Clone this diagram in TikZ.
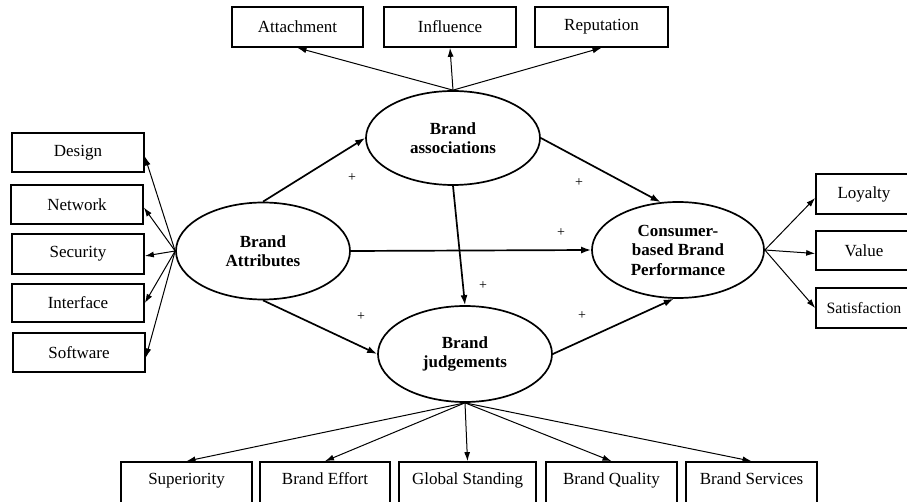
\documentclass[tikz,border=0pt]{standalone}
\usepackage{fontspec}
\setmainfont{Liberation Serif}
\usetikzlibrary{shapes.geometric,arrows.meta}
\begin{document}
\begin{tikzpicture}[x=1pt,y=-1pt,
  box/.style={draw, line width=1.7pt, inner sep=0pt, minimum width=131pt, minimum height=40pt, font=\fontsize{17}{19}\selectfont},
  botbox/.style={box, minimum height=46pt, text height=8pt, text depth=9pt},
  latent/.style={draw, ellipse, line width=1.7pt, inner sep=0pt, minimum width=174pt, minimum height=96pt, align=center, font=\fontsize{17}{19.5}\selectfont\bfseries},
  thinarr/.style={-{Latex[length=9pt,width=6pt]}, line width=1pt},
  thickarr/.style={-{Latex[length=10pt,width=7pt]}, line width=1.7pt},
  plus/.style={font=\fontsize{14}{14}\selectfont, inner sep=0pt}]
\clip (0,0) rectangle (907,502);
\fill[white] (0,0) rectangle (907,502);
% top boxes
\node[box] (att) at (297.5,27) {Attachment};
\node[box, minimum width=132pt] (inf) at (450,27) {Influence};
\node[box, minimum width=133pt] (rep) at (601.5,27) {Reputation};
% left boxes
\node[box, minimum width=132pt, minimum height=39pt] (des) at (78,152.5) {Design};
\node[box, minimum width=132pt, minimum height=39pt] (net) at (77,204.5) {Network};
\node[box, minimum width=132pt] (sec) at (78,254) {Security};
\node[box, minimum width=132pt, minimum height=38pt] (int) at (78,303) {Interface};
\node[box, minimum width=132pt, minimum height=39pt] (sof) at (79,352.5) {Software};
% right boxes
\node[box, minimum width=96pt] (loy) at (864,194) {Loyalty};
\node[box, minimum width=96pt, minimum height=39pt] (val) at (864,250.5) {Value};
\node[box, minimum width=96pt, font=\fontsize{15.8}{18}\selectfont] (sat) at (864,308) {Satisfaction};
% bottom boxes
\node[botbox] (sup) at (186.5,485) {Superiority};
\node[botbox, minimum width=130pt] (eff) at (325,485) {Brand Effort};
\node[botbox, minimum width=137pt] (glo) at (467.5,485) {Global Standing};
\node[botbox] (qua) at (611.5,485) {Brand Quality};
\node[botbox] (ser) at (751.5,485) {Brand Services};
% latent constructs
\node[latent, minimum height=94pt] (assoc) at (453,138) {Brand\\associations};
\node[latent, minimum height=97pt] (attr) at (263,251) {Brand\\Attributes};
\node[latent, minimum width=172pt] (cbbp) at (678,250) {Consumer-\\based Brand\\Performance};
\node[latent] (judg) at (465,354) {Brand\\judgements};
% indicator arrows
\foreach \t in {att,inf,rep} \draw[thinarr] (assoc.north) -- (\t.south);
\draw[thinarr] (attr.west) -- ([yshift=-4pt]des.east);
\draw[thinarr] (attr.west) -- ([yshift=-3pt]net.east);
\draw[thinarr] (attr.west) -- ([yshift=-2pt]sec.east);
\draw[thinarr] (attr.west) -- (int.east);
\draw[thinarr] (attr.west) -- ([yshift=-5pt]sof.east);
\draw[thinarr] (cbbp.east) -- ([yshift=-4pt]loy.west);
\draw[thinarr] (cbbp.east) -- ([yshift=-3pt]val.west);
\draw[thinarr] (cbbp.east) -- (sat.west);
\foreach \t in {sup,eff,glo,qua,ser} \draw[thinarr] (judg.south) -- (\t.north);
% structural paths
\draw[thickarr] (attr.north) -- (assoc.west);
\draw[thickarr] (assoc.east) -- (cbbp.110);
\draw[thickarr] (assoc.south) -- (judg.north);
\draw[thickarr] (attr.east) -- (cbbp.west);
\draw[thickarr] (attr.south) -- (judg.west);
\draw[thickarr] (judg.east) -- (cbbp.265);
% signs
\node[plus] (p1) at (352,178) {+};
\node[plus] (p2) at (579,183) {+};
\node[plus] (p3) at (561,233) {+};
\node[plus] (p4) at (483,286) {+};
\node[plus] (p5) at (361,317) {+};
\node[plus] (p6) at (582,316) {+};
\end{tikzpicture}
\end{document}
